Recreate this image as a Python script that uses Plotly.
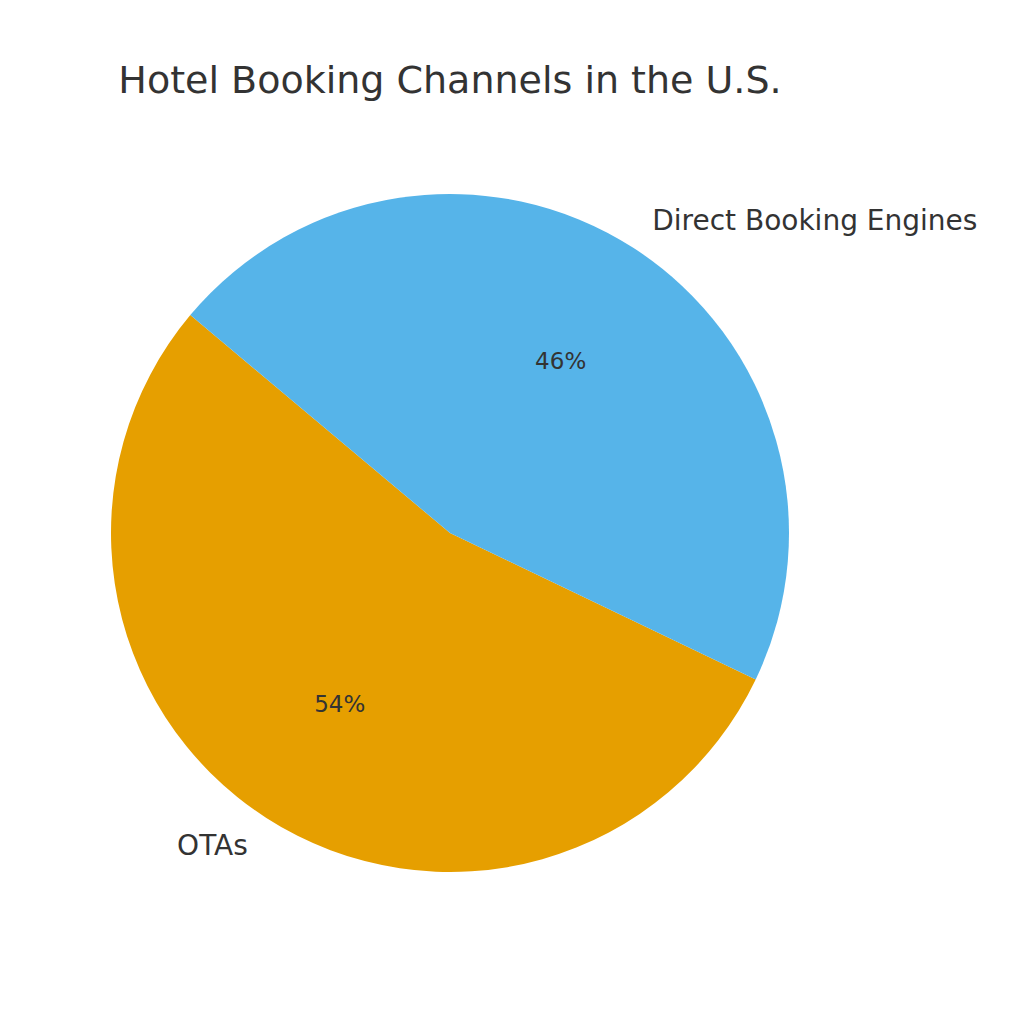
#!/usr/bin/env python3
"""Pie chart of hotel booking channel shares in the U.S."""

import plotly.graph_objects as go

CHANNELS = ["OTAs", "Direct Booking Engines"]
SHARES = [54, 46]
COLORS = ["#E69F00", "#56B4E9"]

TITLE = "Hotel Booking Channels in the U.S."
FONT = "DejaVu Sans"
TEXT_COLOR = "#333333"

# first slice starts 140 deg from 3 o'clock and runs counterclockwise
ROTATION = 115.6

# pie centre sits at (442, 525) px in plot coordinates (page adds 8 px body margin)
PIE_DOMAIN = {"x": [103 / 1024, 781 / 1024], "y": [160 / 1024, 838 / 1024]}
LABEL_DOMAIN = {"x": [84 / 1024, 800 / 1024], "y": [141 / 1024, 857 / 1024]}
PERCENT_DOMAIN = {"x": [35 / 1024, 849 / 1024], "y": [92 / 1024, 906 / 1024]}


def text_pie(template, position, domain, size):
    """Transparent pie used only to place text at the right radius."""
    font = {"family": FONT, "size": size, "color": TEXT_COLOR}
    return go.Pie(
        labels=CHANNELS,
        values=SHARES,
        sort=False,
        direction="counterclockwise",
        rotation=ROTATION,
        marker={"colors": ["rgba(0,0,0,0)"] * len(CHANNELS), "line": {"width": 0}},
        texttemplate=template,
        textposition=position,
        insidetextorientation="horizontal",
        insidetextfont=font,
        outsidetextfont=font,
        domain=domain,
        showlegend=False,
        automargin=False,
        hoverinfo="skip",
    )


def create_chart() -> go.Figure:
    figure = go.Figure()
    figure.add_trace(
        go.Pie(
            labels=CHANNELS,
            values=SHARES,
            sort=False,
            direction="counterclockwise",
            rotation=ROTATION,
            marker={"colors": COLORS, "line": {"width": 0}},
            textinfo="none",
            domain=PIE_DOMAIN,
            showlegend=False,
            automargin=False,
            hoverinfo="label+percent",
        )
    )
    figure.add_trace(text_pie("%{percent:.0%}", "inside", PERCENT_DOMAIN, 23))
    figure.add_trace(text_pie("%{label}", "outside", LABEL_DOMAIN, 28))
    figure.update_layout(
        width=1024,
        height=1024,
        paper_bgcolor="white",
        plot_bgcolor="white",
        margin={"l": 0, "r": 0, "t": 0, "b": 0, "autoexpand": False},
        font={"family": FONT, "color": TEXT_COLOR},
        title={
            "text": TITLE,
            "x": 442 / 1024,
            "xanchor": "center",
            "y": 1 - 72 / 1024,
            "yanchor": "middle",
            "font": {"family": FONT, "size": 38, "color": TEXT_COLOR},
        },
    )
    return figure


if __name__ == "__main__":
    fig = create_chart()
    fig.write_html("out.html")
